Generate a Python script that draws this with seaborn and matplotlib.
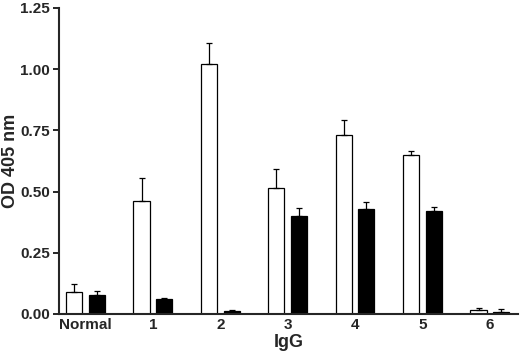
import pandas as pd
import seaborn as sns
from matplotlib import pyplot as plt

groups = ["Normal", "1", "2", "3", "4", "5", "6"]
open_means = [0.091, 0.462, 1.022, 0.516, 0.731, 0.648, 0.015]
open_sem = [0.031, 0.095, 0.085, 0.076, 0.060, 0.018, 0.008]
filled_means = [0.079, 0.061, 0.012, 0.402, 0.430, 0.421, 0.009]
filled_sem = [0.016, 0.006, 0.006, 0.032, 0.027, 0.016, 0.011]


def main():
    df = pd.DataFrame({
        "IgG": groups * 2,
        "OD": open_means + filled_means,
        "err": open_sem + filled_sem,
        "Series": ["open"] * len(groups) + ["filled"] * len(groups),
    })

    sns.set_style("ticks")
    plt.rcParams["font.family"] = ["Liberation Sans", "DejaVu Sans"]
    plt.rcParams["font.weight"] = "bold"

    fig = plt.figure(figsize=(5.2, 3.55), dpi=100)
    ax = fig.add_axes([0.1125, 0.1155, 0.884, 0.862])

    sns.barplot(df, x="IgG", y="OD", hue="Series", palette=["white", "black"],
                width=0.672, gap=0.286, edgecolor="black", linewidth=0.9,
                legend=False, ax=ax)

    # upper-only error bars placed on the drawn bars
    bars = ax.patches[:len(df)]
    xs = [b.get_x() + b.get_width() / 2 for b in bars]
    hs = [b.get_height() for b in bars]
    errs = list(df["err"])
    ax.errorbar(xs, hs, yerr=[[0] * len(errs), errs], fmt="none",
                ecolor="black", elinewidth=0.9, capsize=2.3, capthick=0.9,
                zorder=1)

    ax.set_xlim(-0.40, 6.42)
    ax.set_ylim(0, 1.25)
    ax.set_yticks([0, 0.25, 0.5, 0.75, 1.0, 1.25])
    ax.set_yticklabels(["0.00", "0.25", "0.50", "0.75", "1.00", "1.25"])
    ax.tick_params(axis="y", length=4, width=1.4, labelsize=11, pad=2)
    ax.tick_params(axis="x", length=0, labelsize=11, pad=3)
    for lab in ax.get_xticklabels() + ax.get_yticklabels():
        lab.set_fontweight("bold")
    ax.set_xlabel("IgG", fontsize=13, fontweight="bold", labelpad=1)
    ax.set_ylabel("OD 405 nm", fontsize=13, fontweight="bold")
    ax.yaxis.set_label_coords(-0.085, 0.5)
    sns.despine(ax=ax)
    for s in ["left", "bottom"]:
        ax.spines[s].set_linewidth(1.5)

    fig.savefig("out.png", dpi=100)
    plt.close(fig)


if __name__ == '__main__':
    main()
